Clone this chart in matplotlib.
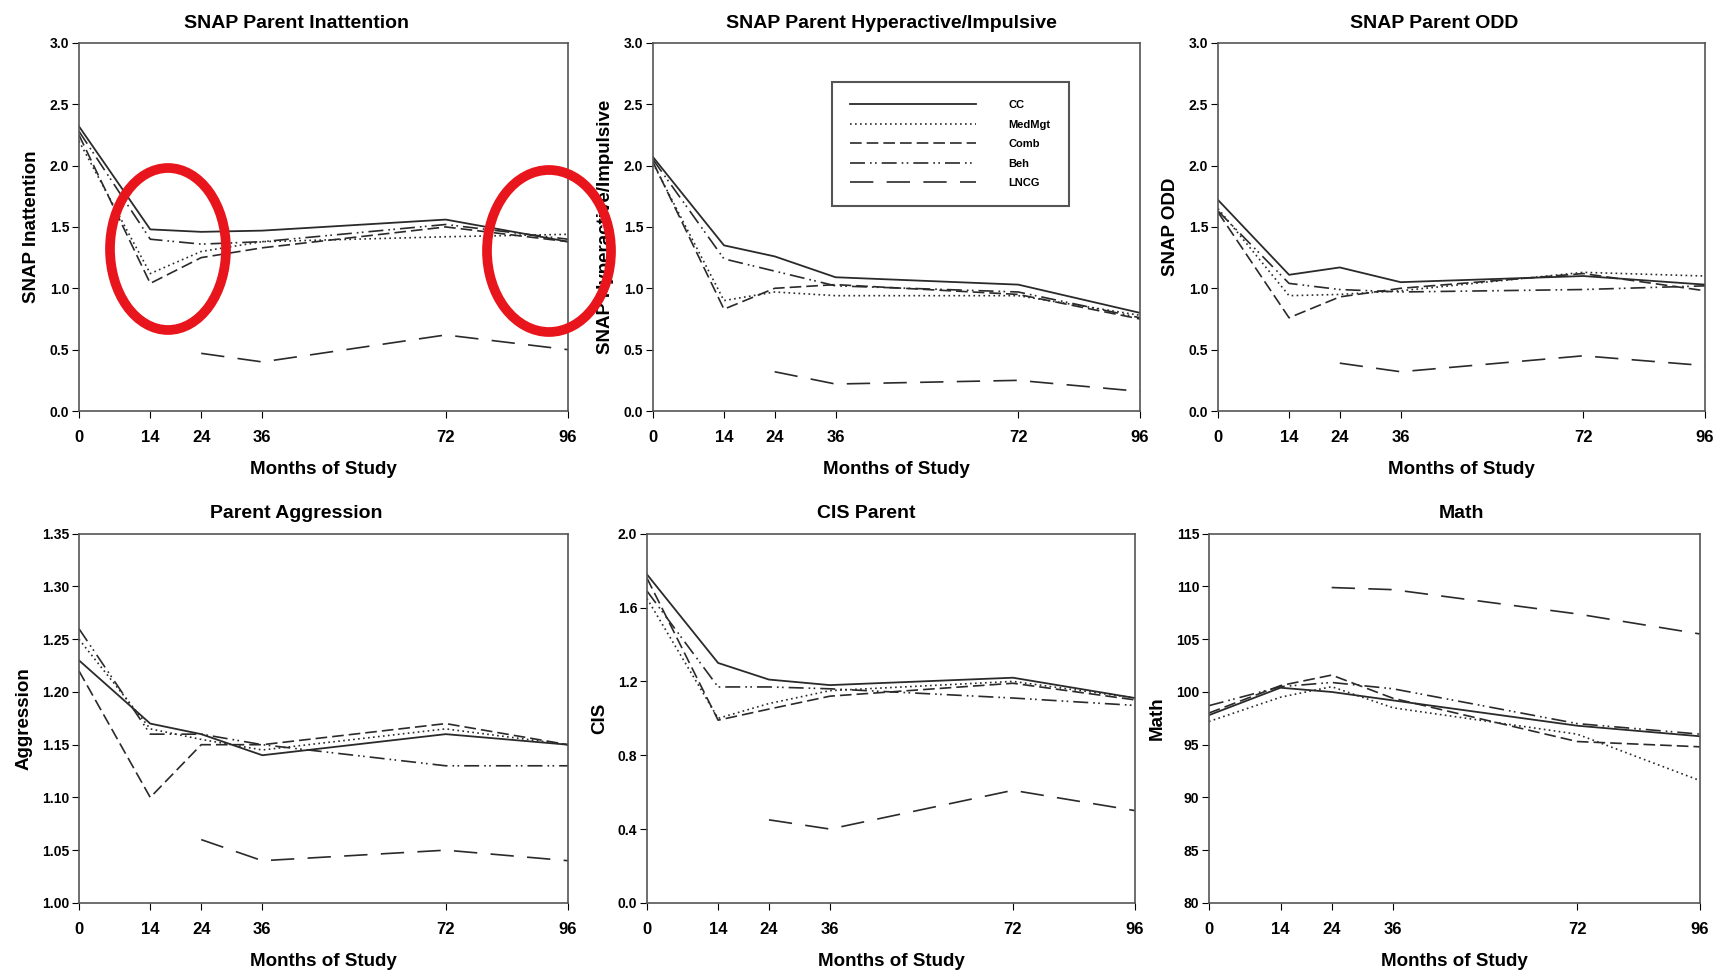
import matplotlib
matplotlib.use("Agg")
import matplotlib.pyplot as plt
from matplotlib.patches import Ellipse
from matplotlib.ticker import FormatStrFormatter

plt.rcParams['font.family'] = ['Liberation Sans', 'DejaVu Sans']
plt.rcParams['font.weight'] = 'bold'

months = [0, 14, 24, 36, 72, 96]
months_lncg = [24, 36, 72, 96]
groups = ['CC', 'MedMgt', 'Comb', 'Beh', 'LNCG']

# SNAP Parent Inattention
inatt_cc = [2.32, 1.48, 1.46, 1.47, 1.56, 1.38]
inatt_med = [2.20, 1.12, 1.30, 1.38, 1.42, 1.44]
inatt_comb = [2.25, 1.04, 1.25, 1.33, 1.50, 1.38]
inatt_beh = [2.28, 1.40, 1.36, 1.38, 1.52, 1.40]
inatt_lncg = [0.47, 0.40, 0.62, 0.50]

# SNAP Parent Hyperactive/Impulsive
hyp_cc = [2.07, 1.35, 1.26, 1.09, 1.03, 0.80]
hyp_med = [2.02, 0.90, 0.97, 0.94, 0.94, 0.78]
hyp_comb = [2.03, 0.83, 1.00, 1.03, 0.95, 0.75]
hyp_beh = [2.05, 1.24, 1.14, 1.02, 0.97, 0.76]
hyp_lncg = [0.32, 0.22, 0.25, 0.16]

# SNAP Parent ODD
odd_cc = [1.72, 1.11, 1.17, 1.05, 1.10, 1.03]
odd_med = [1.65, 0.94, 0.95, 0.98, 1.13, 1.10]
odd_comb = [1.62, 0.76, 0.93, 1.00, 1.12, 0.98]
odd_beh = [1.63, 1.04, 0.99, 0.97, 0.99, 1.02]
odd_lncg = [0.39, 0.32, 0.45, 0.37]

# Parent Aggression
agg_cc = [1.23, 1.17, 1.16, 1.14, 1.16, 1.15]
agg_med = [1.25, 1.165, 1.155, 1.145, 1.165, 1.15]
agg_comb = [1.22, 1.10, 1.15, 1.15, 1.17, 1.15]
agg_beh = [1.26, 1.16, 1.16, 1.15, 1.13, 1.13]
agg_lncg = [1.06, 1.04, 1.05, 1.04]

# CIS Parent
cis_cc = [1.78, 1.30, 1.21, 1.18, 1.22, 1.11]
cis_med = [1.65, 1.00, 1.08, 1.15, 1.20, 1.11]
cis_comb = [1.76, 0.99, 1.05, 1.12, 1.19, 1.10]
cis_beh = [1.69, 1.17, 1.17, 1.16, 1.11, 1.07]
cis_lncg = [0.45, 0.40, 0.61, 0.50]

# Math
math_cc = [97.8, 100.4, 100.0, 99.2, 96.8, 95.8]
math_med = [97.2, 99.5, 100.5, 98.5, 96.0, 91.6]
math_comb = [98.0, 100.6, 101.6, 99.4, 95.3, 94.8]
math_beh = [98.7, 100.5, 100.9, 100.3, 97.0, 96.0]
math_lncg = [109.9, 109.7, 107.4, 105.5]

styles = {
    'CC': dict(ls='-', lw=1.3),
    'MedMgt': dict(ls=(0, (1, 2)), lw=1.2),
    'Comb': dict(ls=(0, (7, 3)), lw=1.2),
    'Beh': dict(ls=(0, (9, 3, 1, 2, 1, 3)), lw=1.2),
    'LNCG': dict(ls=(0, (14, 8)), lw=1.2),
}
line_col = '#2a2a2a'

# title, ylabel, series, ylim, yticks, tick format, axes rect, title x
panels = [
    ('SNAP Parent Inattention', 'SNAP Inattention',
     [inatt_cc, inatt_med, inatt_comb, inatt_beh, inatt_lncg],
     (0, 3.0), [0, 0.5, 1.0, 1.5, 2.0, 2.5, 3.0], '%.1f',
     [0.046, 0.578, 0.285, 0.378], 0.444),
    ('SNAP Parent Hyperactive/Impulsive', 'SNAP Hyperactive/Impulsive',
     [hyp_cc, hyp_med, hyp_comb, hyp_beh, hyp_lncg],
     (0, 3.0), [0, 0.5, 1.0, 1.5, 2.0, 2.5, 3.0], '%.1f',
     [0.3805, 0.578, 0.2838, 0.378], 0.489),
    ('SNAP Parent ODD', 'SNAP ODD',
     [odd_cc, odd_med, odd_comb, odd_beh, odd_lncg],
     (0, 3.0), [0, 0.5, 1.0, 1.5, 2.0, 2.5, 3.0], '%.1f',
     [0.7098, 0.578, 0.2838, 0.378], 0.443),
    ('Parent Aggression', 'Aggression',
     [agg_cc, agg_med, agg_comb, agg_beh, agg_lncg],
     (1.0, 1.35), [1.0, 1.05, 1.10, 1.15, 1.20, 1.25, 1.30, 1.35], '%.2f',
     [0.046, 0.073, 0.285, 0.379], 0.445),
    ('CIS Parent', 'CIS',
     [cis_cc, cis_med, cis_comb, cis_beh, cis_lncg],
     (0, 2.0), [0, 0.4, 0.8, 1.2, 1.6, 2.0], '%.1f',
     [0.377, 0.073, 0.2844, 0.379], 0.45),
    ('Math', 'Math',
     [math_cc, math_med, math_comb, math_beh, math_lncg],
     (80, 115), [80, 85, 90, 95, 100, 105, 110, 115], '%d',
     [0.7045, 0.073, 0.2861, 0.379], 0.515),
]

fig = plt.figure(figsize=(17.16, 9.74), dpi=100)

axes = []
for title, ylab, series, ylim, yticks, fmt, rect, tx in panels:
    ax = fig.add_axes(rect)
    for name, vals in zip(groups, series):
        xs = months_lncg if name == 'LNCG' else months
        ax.plot(xs, vals, color=line_col, label=name, **styles[name])
    ax.set_xlim(0, 96)
    ax.set_ylim(*ylim)
    ax.set_xticks(months)
    ax.set_yticks(yticks)
    ax.yaxis.set_major_formatter(FormatStrFormatter(fmt))
    ax.tick_params(axis='x', direction='out', length=5, labelsize=12, pad=9)
    ax.tick_params(axis='y', direction='out', length=5, labelsize=10, pad=2)
    for lab in ax.get_xticklabels() + ax.get_yticklabels():
        lab.set_fontweight('bold')
    for sp in ax.spines.values():
        sp.set_color('#555555')
        sp.set_linewidth(1.2)
    ax.set_title(title, fontsize=14, fontweight='bold', pad=11, x=tx)
    ax.set_xlabel('Months of Study', fontsize=13.5, fontweight='bold', labelpad=11)
    ax.set_ylabel(ylab, fontsize=13.5, fontweight='bold', labelpad=7)
    axes.append(ax)

leg = axes[1].legend(loc='upper left', bbox_to_anchor=(0.368, 0.894), fontsize=8,
                     handlelength=11.3, handletextpad=2.9, labelspacing=0.85,
                     borderpad=1.65, borderaxespad=0, fancybox=False, framealpha=1)
leg.get_frame().set_edgecolor('#555555')
leg.get_frame().set_linewidth(1.5)
for t in leg.get_texts():
    t.set_fontweight('bold')

# red highlight circles drawn over the first panel
for cx, cy, w, h in [(168, 249, 116, 162), (549, 251, 124, 162)]:
    e = Ellipse((cx / 1716, 1 - cy / 974), w / 1716, h / 974,
                transform=fig.transFigure, fill=False, edgecolor='#e8161c',
                linewidth=7, zorder=10)
    fig.add_artist(e)

fig.savefig('out.png', dpi=100)
